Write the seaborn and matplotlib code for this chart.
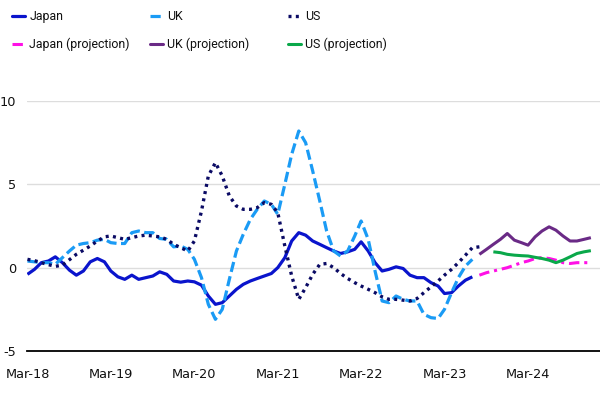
import numpy as np
import pandas as pd
import matplotlib
matplotlib.use("Agg")
import matplotlib.pyplot as plt
import matplotlib.dates as mdates
from matplotlib.lines import Line2D
from matplotlib import font_manager
import seaborn as sns

# ---------------- data ----------------
start_month = "2018-03-01"

japan = [-0.4, -0.1, 0.3, 0.4, 0.65, 0.3, -0.15, -0.45, -0.2, 0.35, 0.55, 0.35,
         -0.2, -0.55, -0.7, -0.45, -0.7, -0.6, -0.5, -0.25, -0.4, -0.8, -0.87, -0.8,
         -0.85, -1.05, -1.7, -2.2, -2.1, -1.7, -1.3, -1.0, -0.8, -0.65, -0.5, -0.35,
         0.0, 0.6, 1.6, 2.1, 1.95, 1.6, 1.4, 1.2, 1.0, 0.85, 0.95, 1.1,
         1.55, 1.0, 0.3, -0.2, -0.1, 0.05, -0.05, -0.45, -0.6, -0.6, -0.9, -1.1,
         -1.55, -1.5, -1.1, -0.75, -0.55]

uk = [0.4, 0.35, 0.3, 0.3, 0.2, 0.6, 1.0, 1.35, 1.45, 1.5, 1.65, 1.7,
      1.5, 1.45, 1.45, 2.1, 2.2, 2.1, 2.1, 1.75, 1.7, 1.25, 1.3, 1.1,
      0.5, -0.6, -2.2, -3.1, -2.5, -0.7, 1.0, 2.0, 2.9, 3.5, 4.0, 3.8,
      3.2, 5.0, 6.8, 8.2, 7.5, 5.8, 4.0, 2.2, 1.0, 0.7, 1.0, 1.9,
      2.8, 1.7, -0.2, -2.0, -2.1, -1.7, -1.9, -2.0, -2.0, -2.8, -3.0, -3.05,
      -2.5, -1.5, -0.6, 0.1, 0.5]

us = [0.5, 0.42, 0.3, 0.18, 0.08, 0.15, 0.48, 0.8, 1.05, 1.3, 1.6, 1.85,
      1.9, 1.8, 1.7, 1.8, 1.9, 1.95, 1.9, 1.85, 1.7, 1.4, 1.2, 1.0,
      1.6, 3.4, 5.5, 6.3, 5.5, 4.3, 3.7, 3.5, 3.5, 3.6, 3.9, 3.8,
      3.3, 1.3, -0.5, -1.9, -1.2, -0.4, 0.2, 0.25, 0.0, -0.35, -0.65, -0.9,
      -1.1, -1.3, -1.5, -1.75, -1.9, -1.9, -1.95, -2.0, -1.85, -1.5, -1.15, -0.8,
      -0.45, -0.1, 0.3, 0.75, 1.2, 1.25]

japan_proj_start = "2023-08-01"
japan_proj = [-0.45, -0.3, -0.2, -0.1, 0.0, 0.15, 0.3, 0.4, 0.55, 0.6, 0.55, 0.45,
              0.3, 0.25, 0.3, 0.3, 0.3]

uk_proj_start = "2023-08-01"
uk_proj = [0.8, 1.1, 1.4, 1.7, 2.05, 1.65, 1.5, 1.35, 1.85, 2.2, 2.45, 2.25,
           1.9, 1.6, 1.6, 1.7, 1.8]

us_proj_start = "2023-10-01"
us_proj = [0.95, 0.9, 0.8, 0.75, 0.72, 0.7, 0.62, 0.55, 0.45, 0.3, 0.45, 0.65,
           0.85, 0.95, 1.02]

y_ticks = [-5, 0, 5, 10]
x_tick_dates = ["2018-03-01", "2019-03-01", "2020-03-01", "2021-03-01",
                "2022-03-01", "2023-03-01", "2024-03-01"]

series = [
    ("Japan", start_month, japan),
    ("UK", start_month, uk),
    ("US", start_month, us),
    ("Japan (projection)", japan_proj_start, japan_proj),
    ("UK (projection)", uk_proj_start, uk_proj),
    ("US (projection)", us_proj_start, us_proj),
]

# ---------------- style ----------------
styles = {
    "Japan": dict(color="#0A14CC", lw=2.3, dashes=None),
    "UK": dict(color="#1A9BF5", lw=2.3, dashes=(3.2, 1.4)),
    "US": dict(color="#0A0A64", lw=2.4, dashes=(0.9, 1.3)),
    "Japan (projection)": dict(color="#FF10E6", lw=2.2, dashes=(3.4, 1.6, 1.0, 1.6)),
    "UK (projection)": dict(color="#6A2A86", lw=2.2, dashes=None),
    "US (projection)": dict(color="#0AA84A", lw=2.2, dashes=None),
}

sns.set_theme(style="white")
plt.rcParams["font.family"] = ["DejaVu Sans"]
plt.rcParams["axes.unicode_minus"] = False

available = {f.name for f in font_manager.fontManager.ttflist}
if "Liberation Sans Narrow" in available:
    legend_prop = {"family": "Liberation Sans Narrow", "size": 11.4}
else:
    legend_prop = {"family": "Roboto", "size": 8.9}

fig = plt.figure(figsize=(6.0, 3.93), dpi=100)
ax = fig.add_axes([27 / 600, 1 - 351 / 393, 1 - 27 / 600, (351 - 101) / 393])

handles = {}
for name, start, vals in series:
    d = pd.DataFrame({"date": pd.date_range(start, periods=len(vals), freq="MS"),
                      "value": vals})
    st = styles[name]
    sns.lineplot(data=d, x="date", y="value", ax=ax, color=st["color"],
                 linewidth=st["lw"], estimator=None, errorbar=None)
    line = ax.get_lines()[-1]
    if st["dashes"] is not None:
        line.set_dashes(st["dashes"])
    line.set_solid_capstyle("butt")
    line.set_dash_capstyle("butt")
    h = Line2D([0], [0], color=st["color"], lw=st["lw"])
    if st["dashes"] is not None:
        h.set_dashes(st["dashes"])
    handles[name] = h

ax.set_xlim(pd.Timestamp("2018-02-27"), pd.Timestamp("2025-01-10"))
ax.set_ylim(-5, 10)
ax.set_yticks(y_ticks)
ax.set_xticks([pd.Timestamp(t) for t in x_tick_dates])
ax.xaxis.set_major_formatter(mdates.DateFormatter("%b-%y"))
ax.set_xlabel("")
ax.set_ylabel("")

ax.grid(axis="y", color="#DDDDDD", linewidth=1.0)
ax.grid(axis="x", visible=False)
for s in ["top", "right", "left"]:
    ax.spines[s].set_visible(False)
ax.spines["bottom"].set_color("black")
ax.spines["bottom"].set_linewidth(1.3)
ax.tick_params(axis="both", length=0, labelsize=9.3)
ax.tick_params(axis="x", pad=12)
ax.tick_params(axis="y", pad=8)
for lbl in ax.get_xticklabels() + ax.get_yticklabels():
    lbl.set_color("#111111")

# legend: three columns, two rows each
cols = [("Japan", "Japan (projection)"), ("UK", "UK (projection)"), ("US", "US (projection)")]
col_x = [8 / 600, 146 / 600, 284 / 600]
fs_px = legend_prop["size"] * 100 / 72
for cx, names in zip(col_x, cols):
    leg = fig.legend([handles[n] for n in names], list(names), loc="upper left",
                     bbox_to_anchor=(cx, 1 - 6 / 393), frameon=False, ncol=1,
                     prop=legend_prop,
                     handlelength=13 / fs_px, handletextpad=4.0 / fs_px,
                     labelspacing=(29.5 - 1.2 * fs_px) / fs_px,
                     borderaxespad=0.0, borderpad=0.35)
    for t in leg.get_texts():
        t.set_color("#111111")

fig.savefig("out.png", dpi=100)
